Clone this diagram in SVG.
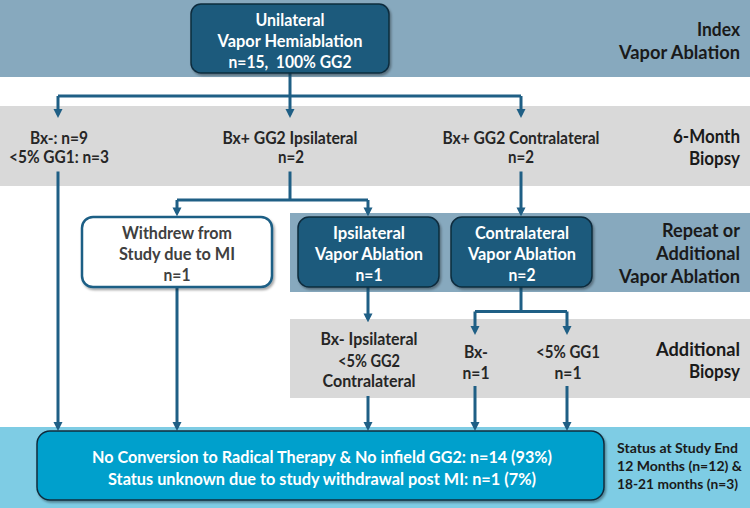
<svg xmlns="http://www.w3.org/2000/svg" width="750" height="508" viewBox="0 0 750 508">
<style>
text{font-family:Lato,"Liberation Sans",sans-serif;font-weight:bold;text-anchor:middle}
.band1{fill:#87a9be}.band2{fill:#d9d9d9}.band5{fill:#7ecce4}
.dark{fill:#1b5a7c;stroke:#0d2c3d;stroke-width:1.5}
.wh{fill:#ffffff;stroke:#1f5f85;stroke-width:2.5}
.bot{fill:#00a0cc;stroke:#0d2c3d;stroke-width:1.5}
.tw{fill:#ffffff;font-size:16.5px}
.tl{fill:#262626;font-size:16.5px}
.tg{fill:#404040;font-size:16.5px}
.side{fill:#1a1a1a;font-size:18px;text-anchor:end}
.stat{fill:#1a1a1a;font-size:14px;text-anchor:start}
.c{fill:none;stroke:#1f5f85;stroke-width:3}
.a{marker-end:url(#arr)}
</style>
<defs>
<marker id="arr" viewBox="0 0 10 10" refX="6" refY="5" markerWidth="9" markerHeight="10" markerUnits="userSpaceOnUse" orient="auto"><path d="M0,0 L10,5 L0,10 z" fill="#1f5f85"/></marker>
<filter id="sh" x="-10%" y="-10%" width="125%" height="130%"><feDropShadow dx="1.5" dy="2" stdDeviation="1.2" flood-color="#000" flood-opacity="0.35"/></filter>
</defs>
<g id="bands">
<rect class="band1" x="0" y="0" width="750" height="77"/>
<rect class="band2" x="0" y="106" width="750" height="80"/>
<rect class="band1" x="290" y="213" width="460" height="79"/>
<rect class="band2" x="290" y="319" width="460" height="79"/>
<rect class="band5" x="0" y="427" width="750" height="81"/>
</g>
<g id="side-labels">
<text class="side" x="740" y="36" textLength="43" lengthAdjust="spacingAndGlyphs">Index</text>
<text class="side" x="740" y="59" textLength="121" lengthAdjust="spacingAndGlyphs">Vapor Ablation</text>
<text class="side" x="740" y="143" textLength="67" lengthAdjust="spacingAndGlyphs">6-Month</text>
<text class="side" x="740" y="164.5" textLength="51" lengthAdjust="spacingAndGlyphs">Biopsy</text>
<text class="side" x="740" y="237" textLength="78" lengthAdjust="spacingAndGlyphs">Repeat or</text>
<text class="side" x="740" y="260" textLength="84" lengthAdjust="spacingAndGlyphs">Additional</text>
<text class="side" x="740" y="283" textLength="121" lengthAdjust="spacingAndGlyphs">Vapor Ablation</text>
<text class="side" x="740" y="355.5" textLength="84" lengthAdjust="spacingAndGlyphs">Additional</text>
<text class="side" x="740" y="377.5" textLength="51" lengthAdjust="spacingAndGlyphs">Biopsy</text>
</g>
<g id="connectors">
<path class="c a" d="M290 73 V114.4"/>
<path class="c" d="M58 96 H521"/>
<path class="c a" d="M58 96 V114.4"/>
<path class="c a" d="M521 96 V114.4"/>
<path class="c a" d="M58 171.5 V427.4"/>
<path class="c" d="M290 171.5 V200"/>
<path class="c" d="M177 200 H368"/>
<path class="c a" d="M177 200 V212.8"/>
<path class="c a" d="M368 200 V212.8"/>
<path class="c a" d="M521 171.5 V212.8"/>
<path class="c a" d="M368 287 V318.8"/>
<path class="c" d="M521 287 V311.5"/>
<path class="c" d="M475 311.5 H567"/>
<path class="c a" d="M475 311.5 V331.4"/>
<path class="c a" d="M567 311.5 V331.4"/>
<path class="c a" d="M177 287 V427.4"/>
<path class="c a" d="M368 396 V427.4"/>
<path class="c a" d="M475 386 V427.4"/>
<path class="c a" d="M567 386 V427.4"/>
</g>
<g id="node-index">
<rect class="dark" x="191" y="4" width="198" height="69" rx="10" filter="url(#sh)"/>
<text class="tw" x="290" y="25.5" textLength="69" lengthAdjust="spacingAndGlyphs">Unilateral</text>
<text class="tw" x="290" y="46.5" textLength="145" lengthAdjust="spacingAndGlyphs">Vapor Hemiablation</text>
<text class="tw" x="290" y="67.5" textLength="123" lengthAdjust="spacingAndGlyphs" xml:space="preserve">n=15,  100% GG2</text>
</g>
<g id="bx-neg">
<text class="tl" x="59" y="143.5" textLength="58" lengthAdjust="spacingAndGlyphs">Bx-: n=9</text>
<text class="tl" x="59" y="162.5" textLength="100" lengthAdjust="spacingAndGlyphs">&lt;5% GG1: n=3</text>
</g>
<g id="bx-ipsi">
<text class="tl" x="290" y="143.5" textLength="135" lengthAdjust="spacingAndGlyphs">Bx+ GG2 Ipsilateral</text>
<text class="tl" x="291" y="162.5" textLength="26" lengthAdjust="spacingAndGlyphs">n=2</text>
</g>
<g id="bx-contra">
<text class="tl" x="521" y="143.5" textLength="157" lengthAdjust="spacingAndGlyphs">Bx+ GG2 Contralateral</text>
<text class="tl" x="521" y="162.5" textLength="26" lengthAdjust="spacingAndGlyphs">n=2</text>
</g>
<g id="node-withdrew">
<rect class="wh" x="82" y="217" width="190" height="70" rx="11" filter="url(#sh)"/>
<text class="tg" x="177" y="238.5" textLength="110" lengthAdjust="spacingAndGlyphs">Withdrew from</text>
<text class="tg" x="177" y="259.5" textLength="116" lengthAdjust="spacingAndGlyphs">Study due to MI</text>
<text class="tg" x="177" y="280.5" textLength="27" lengthAdjust="spacingAndGlyphs">n=1</text>
</g>
<g id="node-ipsi">
<rect class="dark" x="298" y="217" width="141" height="70" rx="11" filter="url(#sh)"/>
<text class="tw" x="369" y="238.5" textLength="72" lengthAdjust="spacingAndGlyphs">Ipsilateral</text>
<text class="tw" x="369" y="259.5" textLength="108" lengthAdjust="spacingAndGlyphs">Vapor Ablation</text>
<text class="tw" x="369" y="280.5" textLength="27" lengthAdjust="spacingAndGlyphs">n=1</text>
</g>
<g id="node-contra">
<rect class="dark" x="451" y="217" width="141" height="70" rx="11" filter="url(#sh)"/>
<text class="tw" x="522" y="238.5" textLength="94" lengthAdjust="spacingAndGlyphs">Contralateral</text>
<text class="tw" x="522" y="259.5" textLength="108" lengthAdjust="spacingAndGlyphs">Vapor Ablation</text>
<text class="tw" x="522" y="280.5" textLength="27" lengthAdjust="spacingAndGlyphs">n=2</text>
</g>
<g id="bx2-ipsi">
<text class="tl" x="369" y="345" textLength="97" lengthAdjust="spacingAndGlyphs">Bx- Ipsilateral</text>
<text class="tl" x="369" y="366.5" textLength="62" lengthAdjust="spacingAndGlyphs">&lt;5% GG2</text>
<text class="tl" x="369" y="386.5" textLength="93" lengthAdjust="spacingAndGlyphs">Contralateral</text>
</g>
<g id="bx2-neg">
<text class="tl" x="476" y="358" textLength="24" lengthAdjust="spacingAndGlyphs">Bx-</text>
<text class="tl" x="476" y="378.5" textLength="27" lengthAdjust="spacingAndGlyphs">n=1</text>
</g>
<g id="bx2-gg1">
<text class="tl" x="568" y="358" textLength="64" lengthAdjust="spacingAndGlyphs">&lt;5% GG1</text>
<text class="tl" x="568" y="378.5" textLength="27" lengthAdjust="spacingAndGlyphs">n=1</text>
</g>
<g id="node-end">
<rect class="bot" x="37" y="431" width="567" height="69" rx="13" filter="url(#sh)"/>
<text class="tw" x="322" y="463" style="font-size:17px" textLength="460" lengthAdjust="spacingAndGlyphs">No Conversion to Radical Therapy &amp; No infield GG2: n=14 (93%)</text>
<text class="tw" x="322" y="484.5" style="font-size:17px" textLength="428" lengthAdjust="spacingAndGlyphs">Status unknown due to study withdrawal post MI: n=1 (7%)</text>
</g>
<g id="status-label">
<text class="stat" x="617" y="453" textLength="121" lengthAdjust="spacingAndGlyphs">Status at Study End</text>
<text class="stat" x="617" y="471" textLength="125" lengthAdjust="spacingAndGlyphs">12 Months (n=12) &amp;</text>
<text class="stat" x="617" y="489" textLength="121" lengthAdjust="spacingAndGlyphs">18-21 months (n=3)</text>
</g>
</svg>
